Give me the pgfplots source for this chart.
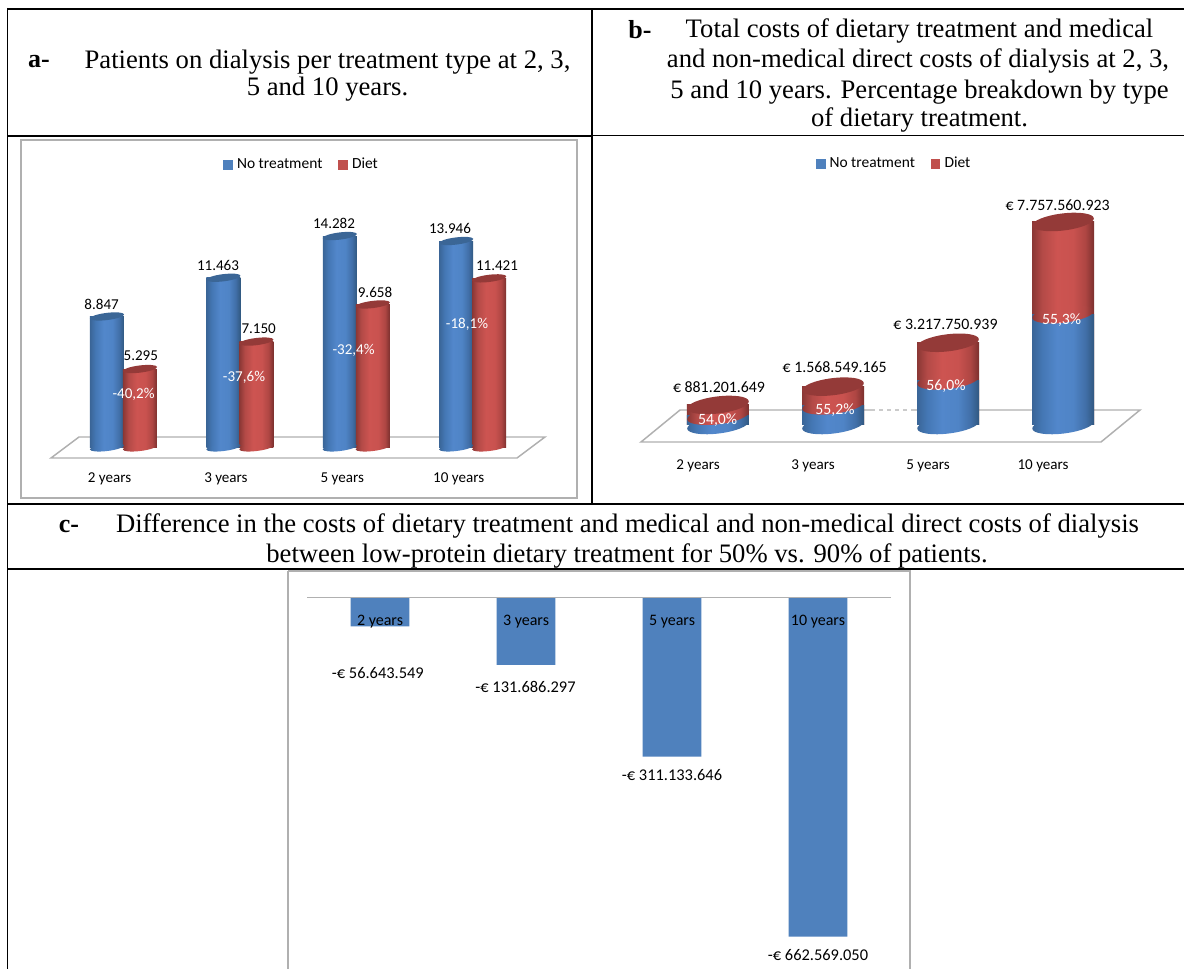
\documentclass[border=0pt]{standalone}
\usepackage{pgfplots}
\usepackage{pgfplotstable}
\usepackage{fontspec}
\pgfplotsset{compat=1.18}
\setmainfont{Liberation Serif}
\newfontfamily\calfont{Carlito}

% Cylinder body shadings, dark at both edges and bright left of centre
\definecolor{barblue}{HTML}{4F81BD}
\definecolor{barred}{HTML}{C0504D}
\definecolor{capblue}{HTML}{3B6696}
\definecolor{capred}{HTML}{943A38}
\definecolor{framegray}{HTML}{B0B0B0}
\definecolor{bA}{HTML}{3A6597}\definecolor{bB}{HTML}{4477B4}\definecolor{bC}{HTML}{5287CB}
\definecolor{bD}{HTML}{4F84C6}\definecolor{bE}{HTML}{416FA8}\definecolor{bF}{HTML}{315880}
\definecolor{rA}{HTML}{8A3735}\definecolor{rB}{HTML}{B34A47}\definecolor{rC}{HTML}{CD5451}
\definecolor{rD}{HTML}{C9524F}\definecolor{rE}{HTML}{AE4643}\definecolor{rF}{HTML}{7B302E}
\pgfdeclarehorizontalshading{cylblue}{100bp}{color(0bp)=(bA);color(25bp)=(bA);%
 color(33bp)=(bB);color(45bp)=(bC);color(58bp)=(bD);color(68bp)=(bE);%
 color(75bp)=(bF);color(100bp)=(bF)}
\pgfdeclarehorizontalshading{cylred}{100bp}{color(0bp)=(rA);color(25bp)=(rA);%
 color(33bp)=(rB);color(45bp)=(rC);color(58bp)=(rD);color(68bp)=(rE);%
 color(75bp)=(rF);color(100bp)=(rF)}

% Tilted cylinder caps as plot marks; small caps for the patient chart, wide ones for the costs
\newcommand\smallcap{\pgfpathellipse{\pgfpointorigin}{\pgfpoint{12.8pt}{1.57pt}}{\pgfpoint{-0.33pt}{2.68pt}}}
\newcommand\widecap[1]{\pgfpathellipse{\pgfpoint{0pt}{#1}}{\pgfpoint{23.08pt}{2.83pt}}{\pgfpoint{-0.78pt}{6.35pt}}}
\pgfdeclareplotmark{a-blue-base}{\smallcap\pgfshadepath{cylblue}{0}\pgfusepath{discard}}
\pgfdeclareplotmark{a-red-base}{\smallcap\pgfshadepath{cylred}{0}\pgfusepath{discard}}
\pgfdeclareplotmark{a-blue-top}{\pgfsetfillcolor{capblue}\smallcap\pgfusepathqfill}
\pgfdeclareplotmark{a-red-top}{\pgfsetfillcolor{capred}\smallcap\pgfusepathqfill}
\pgfdeclareplotmark{b-blue-base}{\pgfsetfillcolor{white}%
  \pgfpathrectanglecorners{\pgfpoint{-24pt}{-1.5pt}}{\pgfpoint{24pt}{2.55pt}}\pgfusepathqfill
  \widecap{2.55pt}\pgfshadepath{cylblue}{0}\pgfusepath{discard}}
\pgfdeclareplotmark{b-red-mid}{\widecap{0pt}\pgfshadepath{cylred}{0}\pgfusepath{discard}}
\pgfdeclareplotmark{b-red-top}{\pgfsetfillcolor{capred}\widecap{0pt}\pgfusepathqfill}

% Patients on dialysis
\pgfplotstableread{
x notreat diet
0 8847 5295
1 11463 7150
2 14282 9658
3 13946 11421
}\patients
% Total costs in millions of euro; part is the share of the no-treatment arm
\pgfplotstableread{
x total part
0 881.201649 475.849
1 1568.549165 865.839
2 3217.750939 1801.941
3 7757.560923 4289.931
}\costs
% Cost differences in millions of euro
\pgfplotstableread{
x diff
0 -56.643549
1 -131.686297
2 -311.133646
3 -662.569050
}\difference

\newcommand\serifsize{\fontsize{20}{22}\selectfont}
\newcommand\headbold{\fontsize{19.5}{20}\selectfont\bfseries}

\pgfplotsset{
  cylaxis/.style={
    scale only axis, clip=false, anchor=south west,
    axis line style={draw=none}, major tick length=0pt,
    xtick={0,1,2,3}, xticklabels={2 years,3 years,5 years,10 years},
    ytick=\empty,
    legend columns=2,
    legend style={draw=none,fill=none,font=\calfont\fontsize{11.6}{13}\selectfont,
      /tikz/every even column/.append style={column sep=10pt},
      /tikz/every odd column/.append style={column sep=1.4pt},inner sep=0pt},
    legend image code/.code={\fill[##1] (0pt,-3.4pt) rectangle (6.4pt,3.4pt);},
  },
  bodybar/.style={ybar,bar shift=0pt,draw=none,forget plot},
  % one table row per plot, so that each cylinder gets its own shading
  row0/.style={skip coords between index={1}{4}},
  row1/.style={skip coords between index={0}{1},skip coords between index={2}{4}},
  row2/.style={skip coords between index={0}{2},skip coords between index={3}{4}},
  row3/.style={skip coords between index={0}{3}},
}

\begin{document}
\begin{tikzpicture}
\path[use as bounding box] (0,0) rectangle (888pt,-726.75pt);

% Table rules, chart frames and floors
\begin{scope}[x=0.75pt,y=-0.75pt]
  \fill[white] (0,0) rectangle (1184,969);
  \draw[line width=1.6pt] (7,9) -- (1184,9);
  \draw[line width=1.4pt] (7.5,8) -- (7.5,969);
  \draw[line width=1.2pt] (592,9) -- (592,504);
  \draw[line width=1.5pt] (7,136) -- (592,136);
  \draw[line width=1pt] (592,135.5) -- (1184,135.5);
  \draw[line width=1.5pt] (7,504) -- (1184,504);
  \draw[line width=1.5pt] (7,569) -- (1184,569);

  \draw[framegray,line width=0.9pt] (21,140) rectangle (577,498);
  \draw[framegray,line width=0.9pt] (288,571) -- (288,969);
  \draw[framegray,line width=0.9pt] (288,571) -- (910,571) -- (910,969);

  \draw[framegray,line width=1.1pt] (51,458) -- (517,458) -- (545,437) -- (79,437) -- cycle;
  \draw[framegray,line width=1.1pt] (641,442) -- (1101,442) -- (1140,410) -- (680,410) -- cycle;

  % Row headings
  \node[font=\headbold] at (39,62) {a-};
  \node[font=\serifsize] at (327.5,62) {Patients on dialysis per treatment type at 2, 3,};
  \node[font=\serifsize] at (327.5,89) {5 and 10 years.};
  \node[font=\headbold] at (640,30) {b-};
  \node[font=\serifsize] at (919.5,31) {Total costs of dietary treatment and medical};
  \node[font=\serifsize] at (918,61) {and non-medical direct costs of dialysis at 2, 3,};
  \node[font=\serifsize] at (919.5,92) {5 and 10 years. Percentage breakdown by type};
  \node[font=\serifsize] at (919.5,120) {of dietary treatment.};
  \node[font=\headbold] at (69,526) {c-};
  \node[font=\serifsize] at (627.5,526) {Difference in the costs of dietary treatment and medical and non-medical direct costs of dialysis};
  \node[font=\serifsize] at (627,556) {between low-protein dietary treatment for 50\% vs. 90\% of patients.};
\end{scope}

% Patients per treatment type
\begin{axis}[cylaxis,
  at={(15.75pt,-372.75pt)}, width=417pt, height=267pt,
  xmin=-0.7603, xmax=4.0163, ymin=-3351, ymax=20703,
  xticklabel style={font=\calfont\fontsize{11.3}{13}\selectfont,anchor=center},
  xticklabel shift=-13.5pt,
  legend style={at={(0.5054,0.934)},anchor=center}]
  \addlegendimage{barblue}\addlegendentry{No treatment}
  \addlegendimage{barred}\addlegendentry{Diet}
  \addplot[only marks,mark=a-blue-base,forget plot] table[x expr=\thisrow{x}-0.0215,y expr=0]{\patients};
  \pgfplotsinvokeforeach{0,1,2,3}{
    \addplot[bodybar,bar width=25.5pt,shade,shading=cylblue,row#1] table[x expr=\thisrow{x}-0.0215,y=notreat]{\patients};
  }
  \addplot[only marks,mark=a-blue-top,forget plot] table[x expr=\thisrow{x}-0.0215,y=notreat]{\patients};
  \addplot[only marks,mark=a-red-base,forget plot] table[x expr=\thisrow{x}+0.262,y expr=0]{\patients};
  \pgfplotsinvokeforeach{0,1,2,3}{
    \addplot[bodybar,bar width=25.5pt,shade,shading=cylred,row#1] table[x expr=\thisrow{x}+0.262,y=diet]{\patients};
  }
  \addplot[only marks,mark=a-red-top,forget plot] table[x expr=\thisrow{x}+0.262,y=diet]{\patients};
\end{axis}

% Total costs, stacked by share
\begin{axis}[cylaxis,
  at={(445.5pt,-376.5pt)}, width=441.75pt, height=273pt,
  xmin=-0.904, xmax=4.217, ymin=-2766, ymax=10913,
  xticklabel style={font=\calfont\fontsize{11.3}{13}\selectfont,anchor=center},
  xticklabel shift=-27pt,
  legend style={at={(0.5102,0.93)},anchor=center}]
  \addlegendimage{barblue}\addlegendentry{No treatment}
  \addlegendimage{barred}\addlegendentry{Diet}
  \pgfplotsinvokeforeach{0,1,2,3}{
    \addplot[bodybar,bar width=46.5pt,shade,shading=cylred,row#1] table[x expr=\thisrow{x}+0.174,y=total]{\costs};
    \addplot[bodybar,bar width=46.5pt,shade,shading=cylblue,row#1] table[x expr=\thisrow{x}+0.174,y=part]{\costs};
  }
  \addplot[only marks,mark=b-blue-base,forget plot] table[x expr=\thisrow{x}+0.174,y expr=0]{\costs};
  \addplot[only marks,mark=b-red-mid,forget plot] table[x expr=\thisrow{x}+0.174,y=part]{\costs};
  \addplot[only marks,mark=b-red-top,forget plot] table[x expr=\thisrow{x}+0.174,y=total]{\costs};
\end{axis}

% Cost difference between the two scenarios
\begin{axis}[
  scale only axis, clip=false, anchor=south west, axis on top,
  at={(230.25pt,-726.75pt)}, width=438pt, height=299.25pt,
  xmin=-0.5, xmax=3.5, ymin=-725.7, ymax=53.3,
  axis x line=middle, axis y line=none,
  x axis line style={-,draw=framegray,line width=0.9pt},
  major tick length=0pt,
  xtick={0,1,2,3}, xticklabels={2 years,3 years,5 years,10 years},
  xticklabel style={font=\calfont\fontsize{12}{13}\selectfont,anchor=center},
  xticklabel shift=18pt, ytick=\empty]
  \addplot[ybar,bar shift=0pt,bar width=43.9pt,fill=barblue,draw=none] table[x=x,y=diff]{\difference};
\end{axis}

% Value and percentage labels
\begin{scope}[x=0.75pt,y=-0.75pt]
  \begin{scope}[every node/.style={font=\calfont\fontsize{11.3}{13}\selectfont}]
    \node at (101.6,304) {8.847};
    \node at (140.8,356) {5.295};
    \node at (218,265) {11.463};
    \node at (258.7,329) {7.150};
    \node at (334,223) {14.282};
    \node at (375,292) {9.658};
    \node at (450,228) {13.946};
    \node at (497,266) {11.421};
  \end{scope}
  \begin{scope}[every node/.style={white,font=\calfont\fontsize{11.3}{13}\selectfont}]
    \node at (133.6,394) {-40,2\%};
    \node at (244,377) {-37,6\%};
    \node at (353.6,350) {-32,4\%};
    \node at (467,324) {-18,1\%};
  \end{scope}
  \begin{scope}[every node/.style={font=\calfont\fontsize{11.9}{13}\selectfont}]
    \node at (719,387) {€ 881.201.649};
    \node at (834.7,367) {€ 1.568.549.165};
    \node at (945.5,324) {€ 3.217.750.939};
    \node at (1057.6,205) {€ 7.757.560.923};
  \end{scope}
  \begin{scope}[every node/.style={white,font=\calfont\fontsize{11.8}{13}\selectfont}]
    \node at (717.6,420) {54,0\%};
    \node at (835,410) {55,2\%};
    \node at (946,386) {56,0\%};
    \node at (1061.6,320) {55,3\%};
  \end{scope}
  \draw[white,line width=0.9pt,dash pattern=on 3pt off 3pt] (875,410) -- (911,410);
  \begin{scope}[every node/.style={font=\calfont\fontsize{12.3}{13}\selectfont}]
    \node at (377.8,673) {-€ 56.643.549};
    \node at (525.5,687) {-€ 131.686.297};
    \node at (672,775) {-€ 311.133.646};
    \node at (818,955) {-€ 662.569.050};
  \end{scope}
\end{scope}
\end{tikzpicture}
\end{document}
